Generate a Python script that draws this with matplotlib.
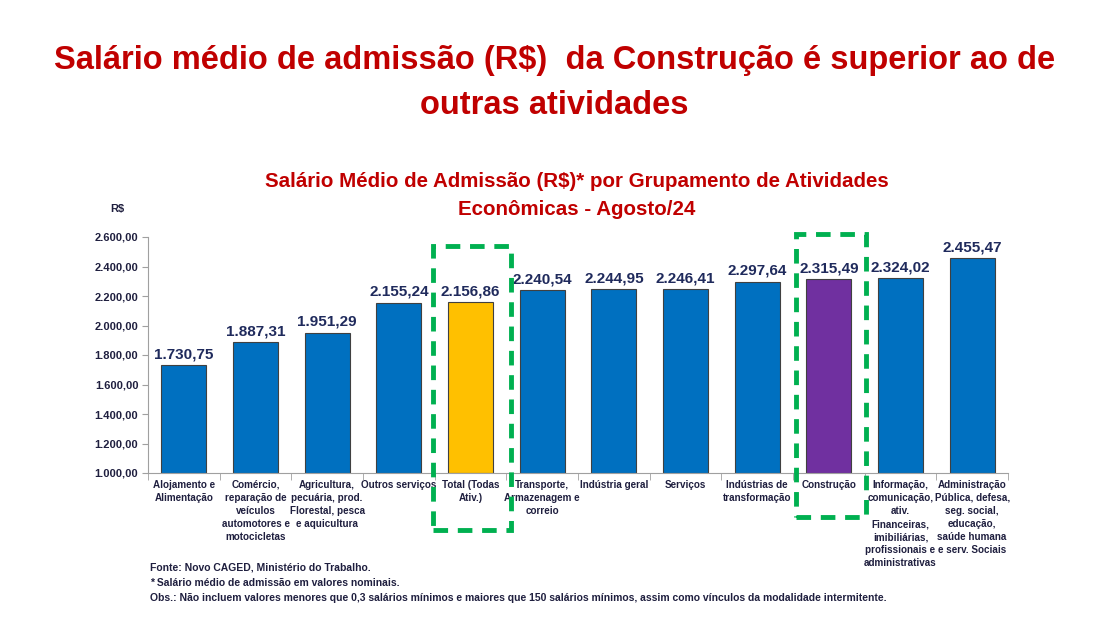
import matplotlib
matplotlib.use("Agg")
import matplotlib.pyplot as plt
import numpy as np
from matplotlib.patches import Rectangle

plt.rcParams['font.family'] = ['Liberation Sans', 'DejaVu Sans']

categorias = ["Alojamento e\nAlimentação",
              "Comércio,\nreparação de\nveículos\nautomotores e\nmotocicletas",
              "Agricultura,\npecuária, prod.\nFlorestal, pesca\ne aquicultura",
              "Outros serviços",
              "Total (Todas\nAtiv.)",
              "Transporte,\nArmazenagem e\ncorreio",
              "Indústria geral",
              "Serviços",
              "Indústrias de\ntransformação",
              "Construção",
              "Informação,\ncomunicação,\nativ.\nFinanceiras,\nimibiliárias,\nprofissionais e\nadministrativas",
              "Administração\nPública, defesa,\nseg. social,\neducação,\nsaúde humana\ne serv. Sociais"]
valores = [1730.75, 1887.31, 1951.29, 2155.24, 2156.86, 2240.54,
           2244.95, 2246.41, 2297.64, 2315.49, 2324.02, 2455.47]
cores = ["#0070C0"] * 12
cores[4] = "#FFC000"
cores[9] = "#7030A0"

def fmt(v):
    s = f"{v:,.2f}"
    return s.replace(",", "X").replace(".", ",").replace("X", ".")

fig = plt.figure(figsize=(11.09, 6.20), dpi=100)
ax = fig.add_axes([148/1109, 1-473/620, 860/1109, 236/620])

x = np.arange(len(valores))
ax.bar(x, np.array(valores) - 1000, bottom=1000,
       width=0.63, color=cores, edgecolor="#404040", linewidth=0.8)
for xi, v in zip(x, valores):
    ax.text(xi, v + 25, fmt(v), ha="center", va="bottom", fontsize=11,
            fontweight="bold", color="#1F2A5C")

ax.set_xlim(-0.5, len(valores) - 0.5)
ax.set_ylim(1000, 2600)
yt = np.arange(1000, 2601, 200)
ax.set_yticks(yt)
ax.set_yticklabels([fmt(v) for v in yt], fontsize=8, fontweight="bold", color="#1F1F3F")
ax.set_xticks(x)
ax.set_xticklabels(categorias, fontsize=7.1, fontweight="bold", color="#1F1F3F",
                   va="top", linespacing=1.38)
ax.tick_params(axis="x", length=0, pad=5)
ax.set_xticks(np.arange(-0.5, len(valores)), minor=True)
ax.tick_params(axis="x", which="minor", length=5, color="#A0A0A0")
ax.tick_params(axis="y", length=4, color="#A0A0A0", pad=3)
for s in ["top", "right"]:
    ax.spines[s].set_visible(False)
for s in ["left", "bottom"]:
    ax.spines[s].set_color("#A0A0A0")

fig.text(0.5, 1-60/620, "Salário médio de admissão (R$)  da Construção é superior ao de",
         ha="center", va="center", fontsize=23.5, fontweight="bold", color="#C00000")
fig.text(0.5, 1-105/620, "outras atividades",
         ha="center", va="center", fontsize=23.5, fontweight="bold", color="#C00000")
fig.text(577/1109, 1-181/620, "Salário Médio de Admissão (R$)* por Grupamento de Atividades",
         ha="center", va="center", fontsize=14.8, fontweight="bold", color="#C00000")
fig.text(577/1109, 1-210/620, "Econômicas - Agosto/24",
         ha="center", va="center", fontsize=14.8, fontweight="bold", color="#C00000")
fig.text(110/1109, 1-209/620, "R$", ha="left", va="center", fontsize=8,
         fontweight="bold", color="#1F1F3F")

notas = ["Fonte: Novo CAGED, Ministério do Trabalho.",
         "* Salário médio de admissão em valores nominais.",
         "Obs.: Não incluem valores menores que 0,3 salários mínimos e maiores que 150 salários mínimos, assim como vínculos da modalidade intermitente."]
for i, n in enumerate(notas):
    fig.text(150/1109, 1-(567 + i*15.5)/620, n, ha="left", va="center",
             fontsize=7.45, fontweight="bold", color="#1F1F3F")

for (x0, y0, x1, y1) in [(433, 246, 511, 530), (796, 234, 866, 517)]:
    fig.patches.append(Rectangle((x0/1109, 1-y1/620), (x1-x0)/1109, (y1-y0)/620,
                                 transform=fig.transFigure, fill=False,
                                 edgecolor="#00B050", linewidth=3.5,
                                 linestyle=(0, (3, 2))))

fig.savefig("out.png", dpi=100)
